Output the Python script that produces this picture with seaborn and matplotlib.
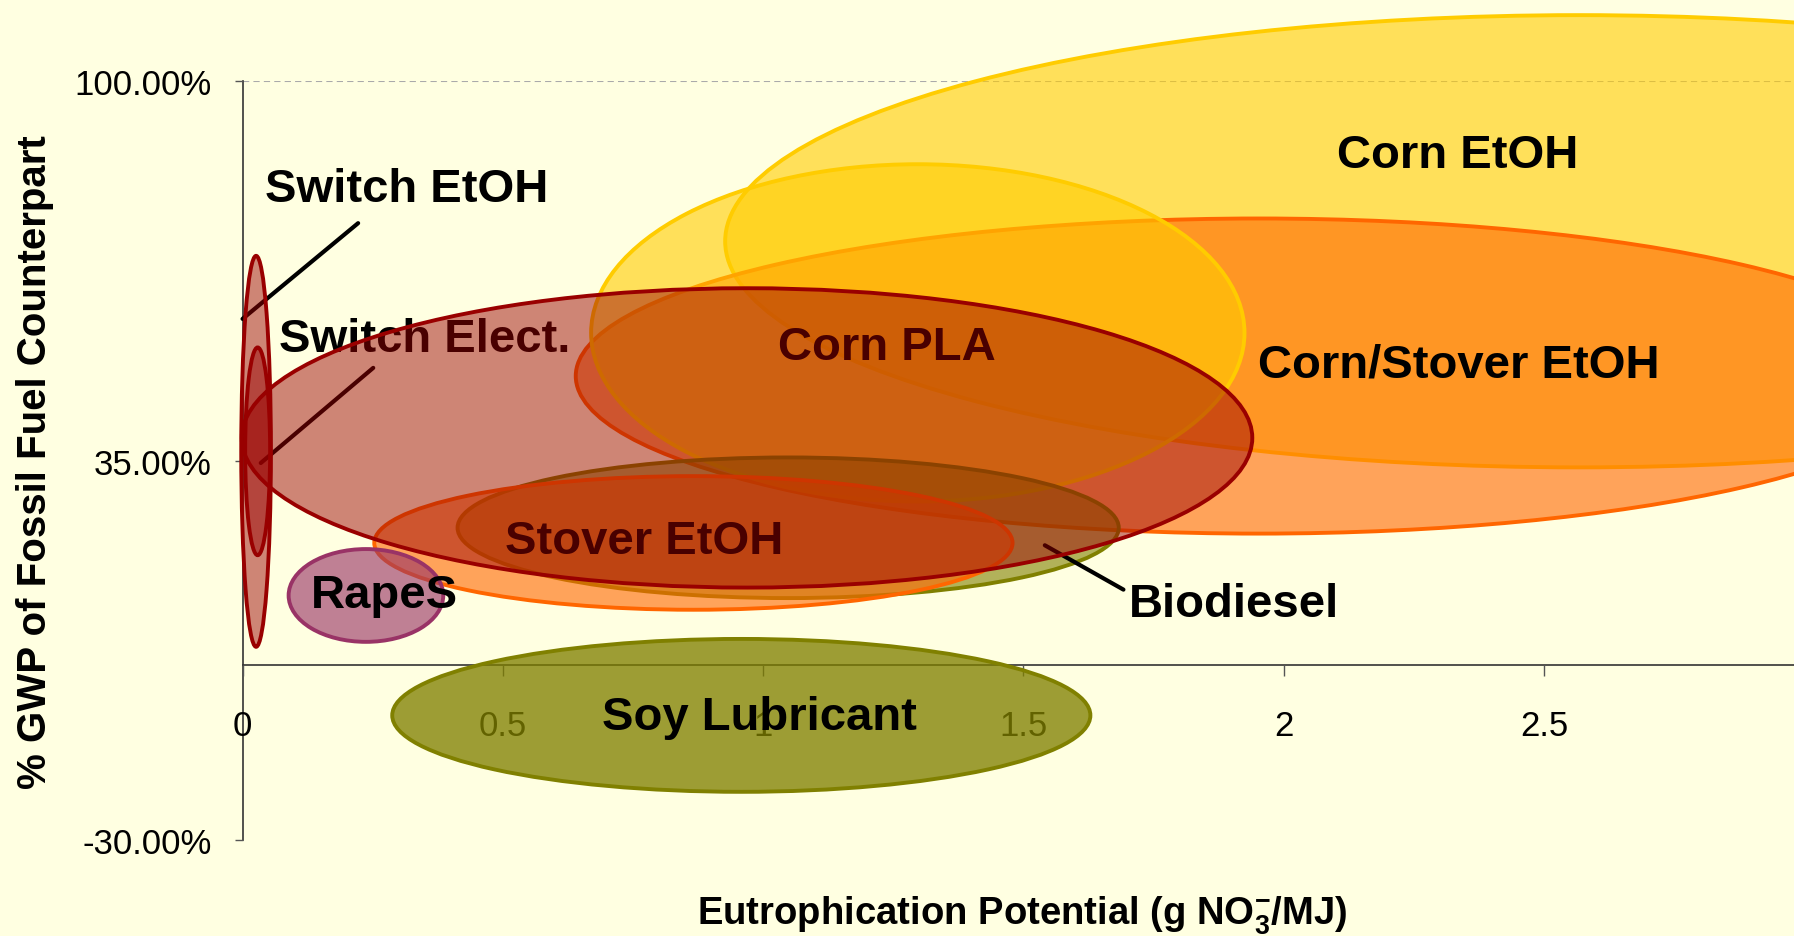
import matplotlib
matplotlib.use("Agg")
import matplotlib.pyplot as plt
from matplotlib.patches import Ellipse
import seaborn as sns

# ---------------- data ----------------
pathways = ["Corn EtOH", "Corn/Stover EtOH", "Corn PLA", "Biodiesel",
            "Stover EtOH", "RapeS", "Soy Lubricant", "PLA/Elect. range",
            "Switch EtOH", "Switch Elect."]
# centre of each range (eutrophication g NO3-/MJ, % GWP)
center_ep = [2.567, 1.952, 1.297, 1.048, 0.866, 0.237, 0.958, 0.969, 0.026, 0.029]
center_gwp = [72.6, 49.5, 56.9, 23.5, 20.9, 11.9, -8.65, 38.9, 36.6, 36.6]
# full extent of each range
span_ep = [3.28, 2.624, 1.255, 1.270, 1.226, 0.297, 1.341, 1.941, 0.057, 0.048]
span_gwp = [77.5, 54.0, 57.8, 24.1, 22.9, 15.9, 26.2, 51.3, 67.0, 35.6]

x_ticks = [0, 0.5, 1, 1.5, 2, 2.5]
x_tick_labels = ["0", "0.5", "1", "1.5", "2", "2.5"]
y_ticks = [-30, 35, 100]
y_tick_labels = ["-30.00%", "35.00%", "100.00%"]

# ---------------- styles ----------------
BG = "#FFFFE1"
fills = ["#FFCC00", "#FF6600", "#FFCC00", "#808000", "#FF6600", "#993366",
         "#808000", "#990000", "#990000", "#990000"]
edges = ["#FFCC00", "#FF6600", "#FFCC00", "#808000", "#FF6600", "#993366",
         "#808000", "#990000", "#990000", "#990000"]
alphas = [0.6, 0.6, 0.6, 0.6, 0.6, 0.62, 0.77, 0.48, 0.48, 0.48]
zorders = [3, 3.1, 3.2, 3.3, 3.4, 3.5, 3.6, 6, 6.1, 6.2]

sns.set_theme(style="white")
plt.rcParams["font.family"] = ["Liberation Sans", "DejaVu Sans"]
plt.rcParams["mathtext.fontset"] = "custom"
plt.rcParams["mathtext.rm"] = "Liberation Sans"
plt.rcParams["mathtext.bf"] = "Liberation Sans:bold"
plt.rcParams["text.color"] = "black"
plt.rcParams["axes.labelcolor"] = "black"
plt.rcParams["xtick.color"] = "black"
plt.rcParams["ytick.color"] = "black"

fig = plt.figure(figsize=(17.94, 9.37), dpi=100, facecolor=BG)
ax = fig.add_axes([0.1352, 0.1025, 0.8648, 0.8096])
ax.set_facecolor(BG)

ax.set_xlim(0, 2.98)
ax.set_ylim(-30, 100)

# ellipses
for i in range(len(pathways)):
    face = matplotlib.colors.to_rgba(fills[i], alphas[i])
    e = Ellipse((center_ep[i], center_gwp[i]), span_ep[i], span_gwp[i],
                facecolor=face, edgecolor=edges[i], linewidth=2.8,
                zorder=zorders[i], clip_on=False)
    ax.add_patch(e)

# labels
lab = dict(fontsize=34, fontweight="bold", color="black", zorder=5)
ax.text(0.044, 81.6, "Switch EtOH", ha="left", va="center", **lab)
ax.text(0.070, 55.9, "Switch Elect.", ha="left", va="center", **lab)
ax.text(1.237, 54.4, "Corn PLA", ha="center", va="center", **lab)
ax.text(2.336, 51.4, "Corn/Stover EtOH", ha="center", va="center", **lab)
ax.text(2.334, 87.3, "Corn EtOH", ha="center", va="center", **lab)
ax.text(0.771, 21.3, "Stover EtOH", ha="center", va="center", **lab)
ax.text(1.905, 10.5, "Biodiesel", ha="center", va="center", **lab)
ax.text(0.273, 11.9, "RapeS", ha="center", va="center", **lab)
ax.text(0.993, -8.9, "Soy Lubricant", ha="center", va="center", **lab)

# leader lines
ax.plot([0.222, 0.0], [75.7, 59.3], color="black", lw=3, zorder=5, clip_on=False)
ax.plot([0.251, 0.035], [50.9, 34.6], color="black", lw=3, zorder=5, clip_on=False)
ax.plot([1.541, 1.692], [20.5, 12.9], color="black", lw=3, zorder=5, clip_on=False)

# dashed line at 100 %
ax.axhline(100, color="#AAAAAA", lw=1.5, ls=(0, (3, 2)), zorder=1)

# axes styling
sns.despine(ax=ax, top=True, right=True)
ax.spines["bottom"].set_position(("data", 0))
ax.spines["bottom"].set_color("#333333")
ax.spines["left"].set_color("#333333")
ax.spines["bottom"].set_linewidth(1.2)
ax.spines["left"].set_linewidth(1.2)
ax.spines["bottom"].set_zorder(2)
ax.spines["left"].set_zorder(2)

ax.set_xticks(x_ticks)
ax.set_xticklabels(x_tick_labels)
ax.set_yticks(y_ticks)
ax.set_yticklabels(y_tick_labels)
ax.tick_params(axis="x", direction="out", length=8, width=1, color="#555555",
               labelcolor="black", labelsize=25, pad=24, bottom=True)
ax.tick_params(axis="y", direction="out", length=6, width=1, color="#555555",
               labelcolor="black", labelsize=25, pad=16, left=True)
ax.xaxis.set_zorder(2)
ax.yaxis.set_zorder(2)

fig.text(0.0195, 0.507, "% GWP of Fossil Fuel Counterpart", rotation=90,
         ha="center", va="center", fontsize=29, fontweight="bold", color="black")
fig.text(0.570, 0.0225, r"Eutrophication Potential (g NO$_\mathbf{3}^\mathbf{-}$/MJ)",
         ha="center", va="center", fontsize=27.5, fontweight="bold", color="black")

fig.savefig("out.png", dpi=100, facecolor=BG)
